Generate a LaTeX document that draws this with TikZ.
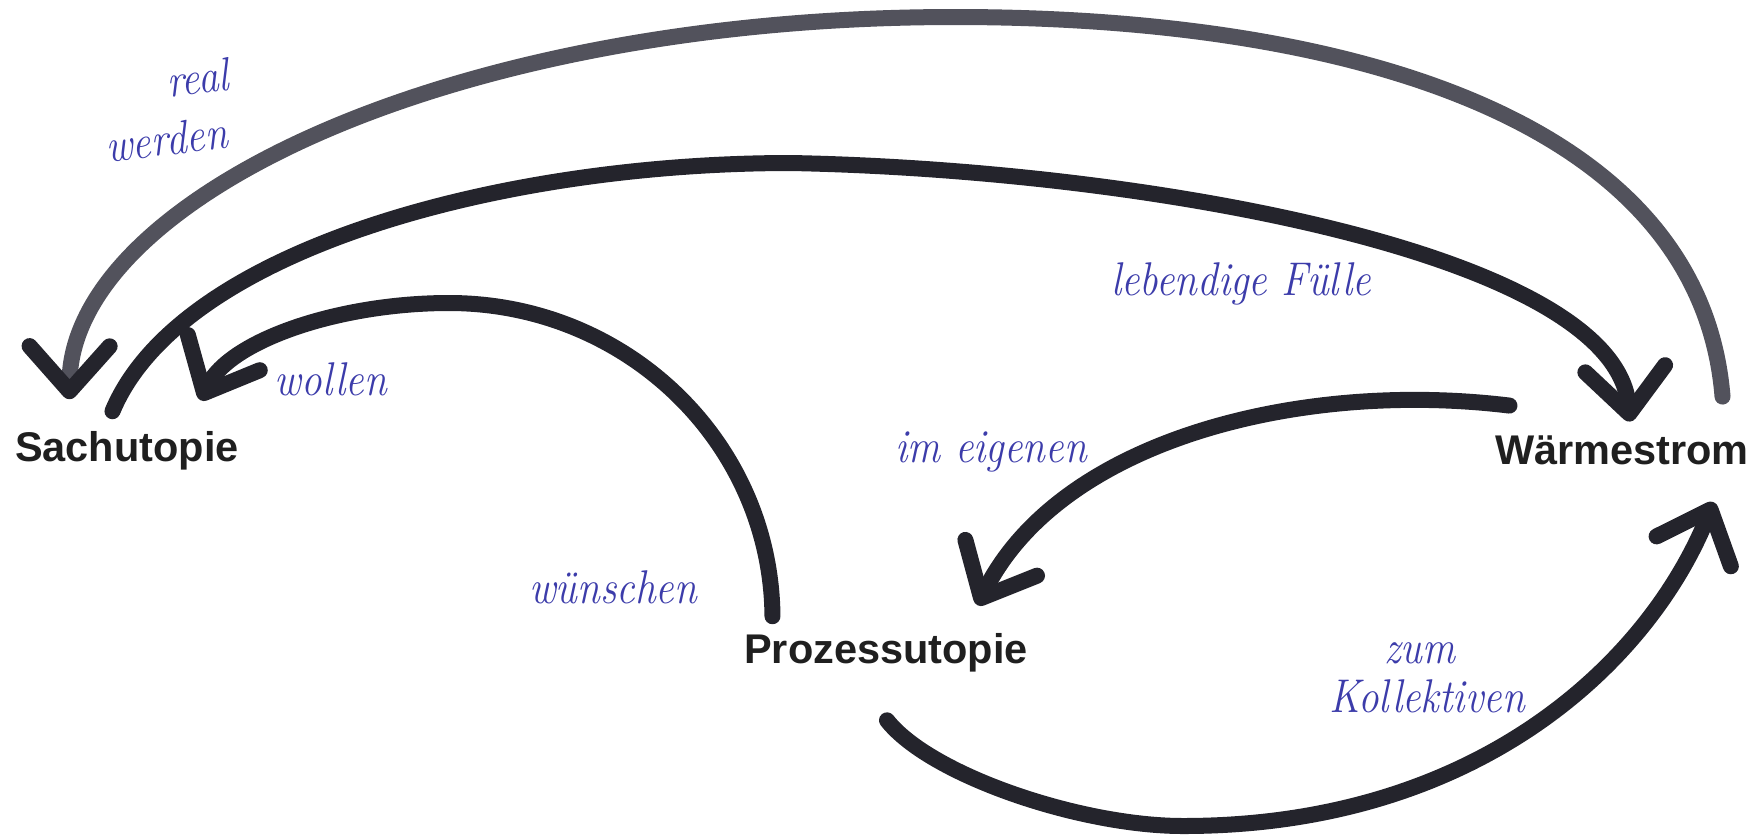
\documentclass[tikz,border=0pt]{standalone}
\usepackage{fontspec}
\newfontfamily\labelfont{Liberation Sans}
\usetikzlibrary{arrows.meta}

\definecolor{penblack}{RGB}{36,36,44}
\definecolor{pengrey}{RGB}{82,82,92}
\definecolor{ink}{RGB}{60,60,170}

\tikzset{
    utopia/.style={font=\labelfont\bfseries\fontsize{11.8}{14}\selectfont,
                   text=black!88, inner sep=0pt, anchor=base},
    hand/.style={font=\itshape\fontsize{11.7}{13}\selectfont, text=ink,
                 inner sep=0pt, anchor=base, yscale=1.15, transform shape},
    marker/.style={draw=penblack, line width=1.6mm, line cap=round,
                   -{Straight Barb[length=4.5mm, width=8mm, round]}},
}

\begin{document}
\begin{tikzpicture}[x=0.01cm, y=-0.01cm]
        \useasboundingbox (0,0) rectangle (1762,838);

        \node[utopia] (sach) at (127,461) {Sachutopie};
        \node[utopia] (warm) at (1622,464) {Wärmestrom};
        \node[utopia] (proz) at (886,663) {Prozessutopie};

        % grey marker over the top, darker head
        \draw[marker, draw=pengrey,
              -{Straight Barb[length=4.5mm, width=8mm, round, color=penblack]}]
            ([shift={(-27,-38)}]warm.north east) .. controls (1700,120) and (1350,17) .. (955,17)
            .. controls (450,17) and (70,200) .. ([shift={(55,-31)}]sach.north west);

        \draw[marker] ([shift={(98,-19)}]sach.north west) .. controls (180,250) and (500,163) .. (791,163)
            .. controls (1150,170) and (1615,255) .. ([shift={(8,-13)}]warm.north);

        \draw[marker] ([shift={(29,-16)}]proz.north west) .. controls (771,443) and (627,303) .. (449,303)
            .. controls (340,303) and (230,340) .. ([shift={(-39,-30)}]sach.north east);

        \draw[marker] ([shift={(15,-29)}]warm.north west) .. controls (1300,380) and (1060,440)
            .. ([shift={(-51,-27)}]proz.north east);

        \draw[marker] ([shift={(1,48)}]proz.south) .. controls (930,775) and (1080,826) .. (1183,826)
            .. controls (1480,826) and (1650,660) .. ([shift={(-36,37)}]warm.south east);

        \node[hand, rotate=6] (real) at (199,94) {real};
        \node[hand, rotate=6] (werden) at (168,155) {werden};
        \node[hand] (fuelle) at (1241,295) {lebendige Fülle};
        \node[hand] (wollen) at (331,395) {wollen};
        \node[hand] (eigen) at (991,462) {im eigenen};
        \node[hand] (wuensch) at (613,603) {wünschen};
        \node[hand] (zum) at (1420,663) {zum};
        \node[hand] (kollektiv) at (1427,712) {Kollektiven};
\end{tikzpicture}
\end{document}
